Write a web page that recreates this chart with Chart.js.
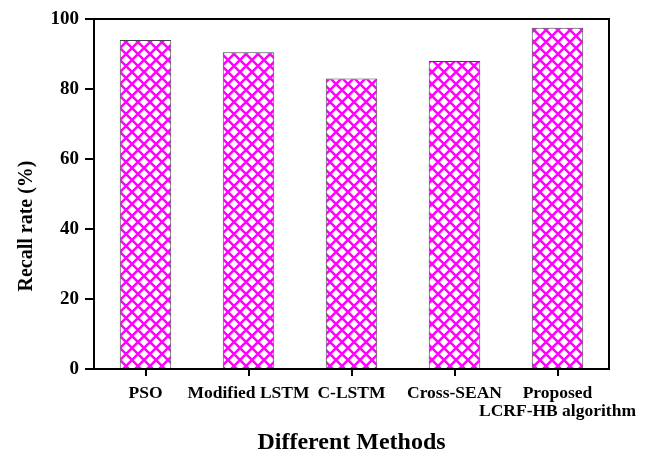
<!DOCTYPE html>
<html>
<head>
<meta charset="utf-8">
<script src="https://cdn.jsdelivr.net/npm/chart.js@4"></script>
<style>
  html, body { margin: 0; padding: 0; background: #fff; }
  #wrap { width: 647px; height: 461px; }
</style>
</head>
<body>
<div id="wrap"><canvas id="myChart" width="647" height="461"></canvas></div>
<script>
const methods = ['PSO', 'Modified LSTM', 'C-LSTM', 'Cross-SEAN', ['Proposed', 'LCRF-HB algorithm']];
const recallRate = [94, 90.5, 83, 88, 97.5];
const yTicks = [0, 20, 40, 60, 80, 100];
const yTitle = 'Recall rate (%)';

// crosshatch fill like the original
function makeHatch() {
    const s = 12;
    const c = document.createElement('canvas');
    c.width = s; c.height = s;
    const g = c.getContext('2d');
    g.fillStyle = '#fff';
    g.fillRect(0, 0, s, s);
    g.strokeStyle = '#ff00ff';
    g.lineWidth = 2.5;
    g.beginPath();
    g.moveTo(-1, -1); g.lineTo(s + 1, s + 1);
    g.moveTo(-1, s + 1); g.lineTo(s + 1, -1);
    g.stroke();
    return document.getElementById('myChart').getContext('2d').createPattern(c, 'repeat');
}

const frame = {
    id: 'frame',
    afterDraw(chart) {
        const a = chart.chartArea, ctx = chart.ctx;
        ctx.save();
        ctx.strokeStyle = '#000';
        ctx.lineWidth = 2;
        ctx.strokeRect(a.left, a.top, a.right - a.left, a.bottom - a.top);
        // y title sits a bit below the middle in the original
        ctx.translate(27, 226);
        ctx.rotate(-Math.PI / 2);
        ctx.fillStyle = '#000';
        ctx.font = 'bold 20px "Liberation Serif"';
        ctx.textAlign = 'center';
        ctx.textBaseline = 'middle';
        ctx.fillText(yTitle, 0, 0);
        ctx.restore();
    }
};

const font = { family: 'Liberation Serif', weight: 'bold' };

new Chart(document.getElementById('myChart'), {
    type: 'bar',
    data: {
        labels: methods,
        datasets: [{
            label: 'Recall rate',
            data: recallRate,
            backgroundColor: makeHatch(),
            borderColor: '#444',
            borderWidth: 1,
            barPercentage: 0.5,
            categoryPercentage: 1
        }]
    },
    options: {
        responsive: false,
        animation: false,
        layout: { padding: { left: 0, right: 38, top: 19, bottom: 0 } },
        plugins: { legend: { display: false }, tooltip: { enabled: false } },
        scales: {
            x: {
                offset: true,
                grid: { display: true, drawOnChartArea: false, offset: false, color: '#000', lineWidth: 2, tickLength: 7 },
                border: { color: '#000', width: 2 },
                ticks: { color: '#000', font: { ...font, size: 17.5, lineHeight: 1.0 }, padding: 9, maxRotation: 0, autoSkip: false },
                title: { display: true, text: 'Different Methods', color: '#000', font: { ...font, size: 24 }, padding: { top: 22 } },
                afterFit(scale) {
                    scale.height = 92;
                    scale.paddingLeft = 0;
                    scale.paddingRight = 0;
                }
            },
            y: {
                min: 0, max: 100,
                afterBuildTicks(scale) { scale.ticks = yTicks.map(v => ({ value: v })); },
                grid: { drawOnChartArea: false, color: '#000', lineWidth: 2, tickLength: 9 },
                border: { color: '#000', width: 2 },
                ticks: { color: '#000', font: { ...font, size: 19 }, padding: 6 },
                afterFit(scale) { scale.width = 94; }
            }
        }
    },
    plugins: [frame]
});
</script>
</body>
</html>
